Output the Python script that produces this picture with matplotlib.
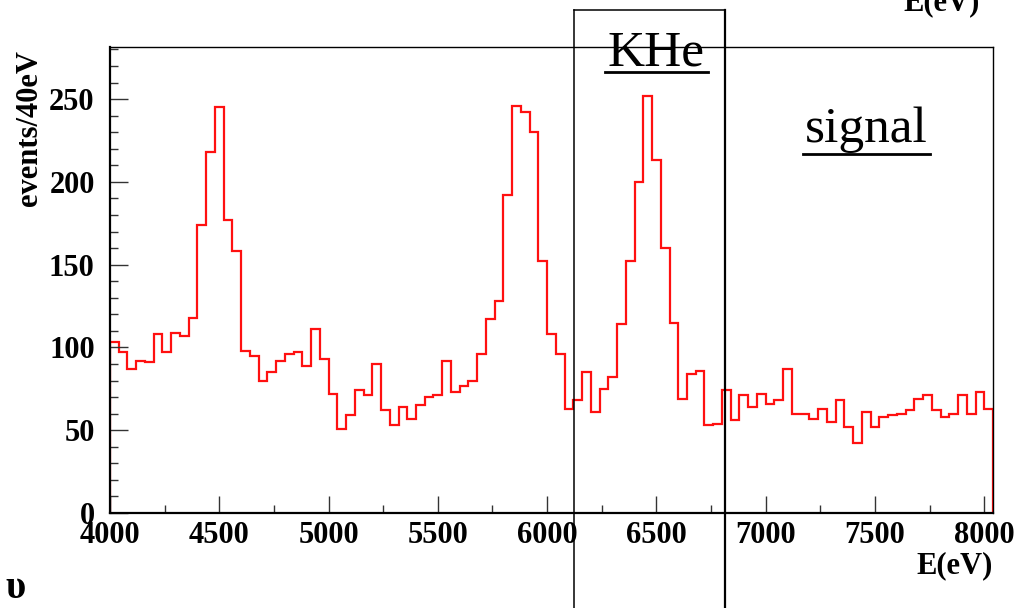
import matplotlib
matplotlib.use("Agg")
import matplotlib.pyplot as plt
from matplotlib.lines import Line2D
from matplotlib.ticker import MultipleLocator
import numpy as np

# 40 eV bins from 4000 to 8040 eV
bin_edges = np.arange(4000, 8041, 40)
counts = [103, 97, 87, 92, 91, 108, 97, 109, 107, 118,
          174, 218, 245, 177, 158, 98, 95, 80, 85, 92,
          96, 97, 89, 111, 93, 72, 51, 59, 74, 71,
          90, 62, 53, 64, 57, 65, 70, 71, 92, 73,
          77, 80, 96, 117, 128, 192, 246, 242, 230, 152,
          108, 96, 63, 68, 85, 61, 75, 82, 114, 152,
          200, 252, 213, 160, 115, 69, 84, 86, 53, 54,
          74, 56, 71, 64, 72, 66, 68, 87, 60, 60,
          57, 63, 55, 68, 52, 42, 61, 52, 58, 59,
          60, 62, 69, 71, 62, 58, 60, 71, 60, 73,
          63]

x_ticks = [4000, 4500, 5000, 5500, 6000, 6500, 7000, 7500, 8000]
y_ticks = [0, 50, 100, 150, 200, 250]

W, H = 1020, 608
serif = "Liberation Serif"

fig = plt.figure(figsize=(W / 100, H / 100), dpi=100)
ax = fig.add_axes([110 / W, 1 - 513 / H, (993 - 110) / W, (513 - 47) / H])

ax.stairs(counts, bin_edges, baseline=0, color="#ff1010", linewidth=1.6)

ax.set_xlim(4000, 8040)
ax.set_ylim(0, 281.5)
ax.set_xticks(x_ticks)
ax.set_yticks(y_ticks)
ax.xaxis.set_minor_locator(MultipleLocator(250))
ax.yaxis.set_minor_locator(MultipleLocator(10))
ax.tick_params(which="both", direction="in", top=False, right=False, color="#333333")
ax.tick_params(axis="x", which="major", length=12, width=1, pad=6)
ax.tick_params(axis="x", which="minor", length=6, width=1)
ax.tick_params(axis="y", which="major", length=13, width=1, pad=11)
ax.tick_params(axis="y", which="minor", length=6, width=1)
for lab in ax.get_xticklabels() + ax.get_yticklabels():
    lab.set_fontfamily(serif)
    lab.set_fontweight("bold")
    lab.set_fontsize(22)

for side in ["left", "bottom"]:
    ax.spines[side].set_linewidth(1.6)
for side in ["top", "right"]:
    ax.spines[side].set_linewidth(1.0)

fig.text(993 / W, 1 - 566 / H, "E(eV)", ha="right", va="center",
         family=serif, fontweight="bold", fontsize=22)
fig.text(30 / W, 1 - 128 / H, "events/40eV", rotation=90, ha="center", va="center",
         family=serif, fontweight="bold", fontsize=22)

# cut-off pieces of neighbouring labels
fig.text(980 / W, 1 - 10 / H, "E(eV)", ha="right", va="baseline",
         family=serif, fontweight="bold", fontsize=22)
fig.text(16 / W, 1 - 588 / H, "υ", ha="center", va="center",
         family=serif, fontweight="bold", fontsize=28)

# KHe window box
box_kw = dict(transform=fig.transFigure, color="black", zorder=10)
fig.add_artist(Line2D([574 / W, 574 / W], [1 - 10 / H, -0.05], linewidth=1.1, **box_kw))
fig.add_artist(Line2D([574 / W, 725 / W], [1 - 10 / H, 1 - 10 / H], linewidth=1.1, **box_kw))
fig.add_artist(Line2D([725 / W, 725 / W], [1 - 10 / H, -0.05], linewidth=1.6, **box_kw))

fig.text(656 / W, 1 - 65 / H, "KHe", ha="center", va="baseline",
         family=serif, fontsize=37, zorder=11)
fig.add_artist(Line2D([605 / W, 708 / W], [1 - 72 / H, 1 - 72 / H], linewidth=2.0, **box_kw))

fig.text(866 / W, 1 - 142 / H, "signal", ha="center", va="baseline",
         family=serif, fontsize=37, zorder=11)
fig.add_artist(Line2D([803 / W, 930 / W], [1 - 154 / H, 1 - 154 / H], linewidth=2.0, **box_kw))

fig.savefig("out.png", dpi=100)
